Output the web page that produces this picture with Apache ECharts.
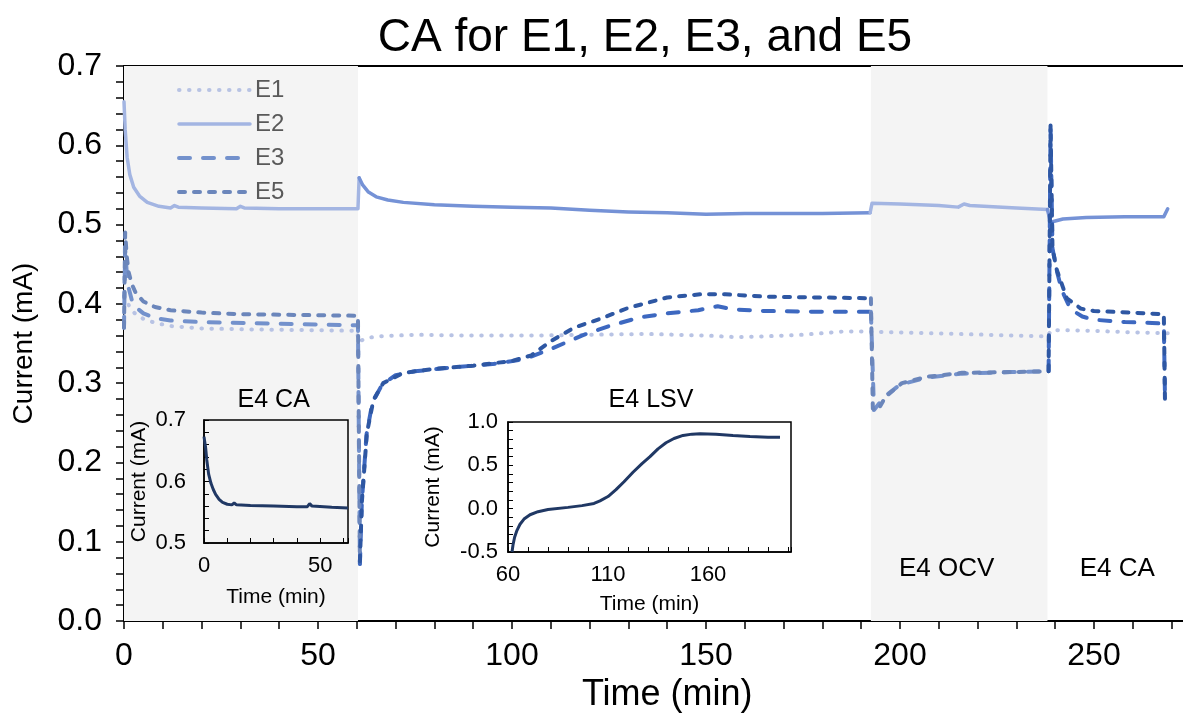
<!DOCTYPE html>
<html><head><meta charset="utf-8">
<script src="https://cdn.jsdelivr.net/npm/echarts@6/dist/echarts.min.js"></script>
<style>html,body{margin:0;padding:0;background:#fff}#c{width:1183px;height:713px}</style>
</head><body><div id="c"></div>
<script>
// ---- data (time in min, current in mA) ----
const E1 = [[0,0.41],[0.5,0.405],[1,0.4],[2,0.392],[3,0.387],[5,0.381],[8,0.376],[12,0.372],[20,0.369],[30,0.368],[45,0.367],[60,0.366],[60.6,0.352],[62,0.356],[65,0.359],[75,0.361],[90,0.36],[105,0.36],[120,0.361],[135,0.362],[150,0.36],[158,0.358],[165,0.359],[175,0.361],[185,0.365],[192,0.365],[200,0.364],[215,0.362],[230,0.36],[238,0.359],[239,0.367],[250,0.366],[260,0.364],[269,0.363]];
const E2 = [[0,0.655],[0.3,0.62],[0.8,0.585],[1.5,0.563],[2.5,0.547],[4,0.536],[6,0.528],[9,0.523],[12,0.521],[13,0.524],[14,0.522],[20,0.521],[29,0.52],[30,0.523],[31,0.521],[40,0.52],[50,0.52],[60.3,0.52],[60.6,0.559],[61.5,0.55],[63,0.541],[65,0.535],[68,0.531],[72,0.528],[80,0.525],[90,0.523],[100,0.522],[110,0.521],[120,0.518],[130,0.516],[140,0.515],[150,0.513],[160,0.514],[170,0.514],[180,0.514],[192.3,0.515],[192.8,0.527],[200,0.526],[210,0.524],[215,0.522],[216.5,0.526],[218,0.524],[230,0.521],[238,0.519],[238.8,0.503],[242,0.507],[248,0.509],[258,0.51],[268,0.51],[269,0.52]];
const E3 = [[0,0.37],[0.3,0.47],[0.7,0.44],[1.2,0.42],[2,0.405],[3,0.396],[5,0.388],[8,0.382],[12,0.379],[20,0.377],[40,0.375],[60.3,0.373],[60.8,0.072],[61.3,0.15],[62.5,0.235],[64,0.275],[66.5,0.298],[70,0.31],[75,0.315],[85,0.32],[95,0.324],[103,0.33],[110,0.343],[118,0.36],[125,0.372],[133,0.383],[140,0.388],[148,0.392],[153,0.397],[157,0.393],[165,0.391],[180,0.39],[192.5,0.39],[193.3,0.266],[196,0.283],[200,0.298],[207,0.307],[216,0.312],[229,0.314],[238.3,0.315],[238.8,0.62],[239.3,0.47],[240.5,0.44],[241.7,0.417],[244,0.393],[247,0.384],[250,0.38],[258,0.377],[265,0.376],[268,0.375],[268.3,0.28]];
const E5 = [[0,0.37],[0.3,0.49],[0.7,0.46],[1.2,0.44],[2,0.425],[3,0.414],[5,0.403],[8,0.396],[12,0.392],[20,0.389],[30,0.387],[45,0.386],[60.3,0.385],[60.8,0.075],[61.3,0.15],[62.6,0.237],[64.3,0.279],[66.8,0.3],[72,0.313],[80,0.318],[90,0.322],[100,0.328],[105,0.335],[110,0.353],[116,0.37],[122.7,0.381],[130,0.395],[140,0.408],[148.5,0.412],[155,0.412],[165.7,0.409],[180,0.408],[192.5,0.407],[193,0.268],[194.3,0.266],[196.3,0.283],[200.5,0.3],[207,0.308],[216,0.313],[229,0.314],[238.3,0.315],[238.8,0.625],[239.3,0.47],[240.4,0.443],[243,0.407],[246.6,0.394],[250,0.391],[255,0.39],[263.5,0.388],[268,0.387],[268.3,0.276]];
const E4_CA = [[0,0.673],[0.3,0.67],[0.7,0.655],[1.2,0.635],[2,0.612],[3,0.597],[4,0.587],[5,0.579],[6.5,0.571],[8,0.566],[10,0.563],[12,0.562],[13,0.565],[14,0.562],[20,0.561],[30,0.56],[40,0.559],[44.5,0.559],[45.5,0.564],[46.5,0.56],[55,0.558],[62,0.557]];
const E4_LSV = [[62,-0.5],[62.5,-0.42],[63.3,-0.33],[64.5,-0.25],[66,-0.18],[68,-0.12],[71,-0.07],[75,-0.035],[80,-0.01],[90,0.015],[97,0.035],[103,0.06],[106,0.09],[110,0.14],[114,0.22],[118,0.31],[122.5,0.42],[127,0.52],[131,0.6],[135,0.69],[139,0.76],[143,0.81],[147.5,0.845],[152,0.86],[156,0.865],[164,0.86],[172.5,0.845],[181,0.832],[190,0.825],[196,0.823]];
const SEGMENT_BOUNDS = [60.8, 192.5, 238.3];   // E4 CA | E4 LSV | E4 OCV | E4 CA
const SHADED = [[0, 60.3], [192.5, 238]];
const PHASE_LABELS = [['E4 OCV', 212], ['E4 CA', 256]];
const SERIES_NAMES = ['E1', 'E2', 'E3', 'E5'];

const FONT = '"Liberation Sans", Arial, sans-serif';

function splitSegments(data, bounds) {
  const out = bounds.map(() => []).concat([[]]);
  data.forEach(p => { let k = 0; while (k < bounds.length && p[0] > bounds[k]) k++; out[k].push(p); });
  for (let k = out.length - 1; k > 0; k--) {
    if (out[k - 1].length) out[k].unshift(out[k - 1][out[k - 1].length - 1]);
  }
  return out;
}

const styles = {
  E2: { colors: ['#a3b5e2', '#7592d6', '#a3b5e2', '#7592d6'], width: 3.5, type: 'solid' },
  E3: { colors: ['#7391cc', '#3d68c0', '#7391cc', '#3d68c0'], width: 4, type: [11, 13] },
  E5: { colors: ['#6b86bb', '#2e57a3', '#6b86bb', '#2e57a3'], width: 4, type: [6, 9] }
};

const series = [];
series.push({
  type: 'line', data: [], xAxisIndex: 0, yAxisIndex: 0, z: 0, silent: true,
  markArea: { silent: true, itemStyle: { color: '#f4f4f4' },
    data: SHADED.map(r => [{ xAxis: r[0] }, { xAxis: r[1] }]) }
});
series.push({
  name: 'E1', type: 'line', data: E1, showSymbol: false, symbol: 'none', z: 2,
  lineStyle: { color: '#b8c3e4', width: 4, type: [0.5, 9.5], cap: 'round' },
  itemStyle: { color: '#b8c3e4' }
});
const src = { E2: E2, E3: E3, E5: E5 };
['E2', 'E3', 'E5'].forEach((nm, si) => {
  const st = styles[nm];
  splitSegments(src[nm], SEGMENT_BOUNDS).forEach((seg, k) => {
    series.push({
      name: nm, type: 'line', data: seg, showSymbol: false, symbol: 'none', z: 3 + si,
      lineStyle: { color: st.colors[k], width: st.width, type: st.type, cap: 'round', join: 'round' },
      itemStyle: { color: st.colors[k] }
    });
  });
});
series.push({ type: 'line', data: E4_CA, xAxisIndex: 1, yAxisIndex: 1, showSymbol: false, symbol: 'none', z: 12,
  lineStyle: { color: '#203864', width: 3 } });
series.push({ type: 'line', data: E4_LSV, xAxisIndex: 2, yAxisIndex: 2, showSymbol: false, symbol: 'none', z: 12,
  lineStyle: { color: '#203864', width: 3 } });

const isMult = (v, m) => Math.abs(v / m - Math.round(v / m)) < 1e-6;

const mainAxis = (extra) => Object.assign({
  type: 'value', splitLine: { show: false },
  axisLine: { show: true, onZero: false, lineStyle: { color: '#000', width: 2 } },
  axisTick: { show: true, length: 8, lineStyle: { color: '#000', width: 1.5 } }
}, extra);
const insetAxis = (extra) => Object.assign({
  type: 'value', splitLine: { show: false }, nameLocation: 'middle', z: 10,
  axisLine: { show: true, onZero: false, lineStyle: { color: '#000', width: 1.5 } },
  axisTick: { show: true, inside: true, length: 5, lineStyle: { color: '#000', width: 1 } },
  nameTextStyle: { color: '#000', fontFamily: FONT, fontSize: 21 }
}, extra);
const insetLabel = (fmt, margin) => ({ color: '#000', fontFamily: FONT, fontSize: 22, margin: margin, formatter: fmt });

const option = {
  animation: false,
  backgroundColor: '#fff',
  title: { text: 'CA for E1, E2, E3, and E5', left: 640, textAlign: 'center', top: 10,
    textStyle: { fontFamily: FONT, fontSize: 46, fontWeight: 'normal', color: '#000' } },
  legend: {
    data: SERIES_NAMES, orient: 'vertical', left: 172, top: 73, itemWidth: 71, itemHeight: 14, itemGap: 10,
    itemStyle: { opacity: 0 }, lineStyle: { width: 'inherit' },
    textStyle: { fontFamily: FONT, fontSize: 24, color: '#595959' }, selectedMode: false
  },
  grid: [
    { left: 124, top: 66, width: 1086.4, height: 555, show: true, borderColor: '#000', borderWidth: 2, outerBoundsMode: 'none', containLabel: false },
    { left: 204, top: 420, width: 144, height: 123, show: true, z: 10, borderColor: '#000', borderWidth: 1.5, outerBoundsMode: 'none', containLabel: false },
    { left: 508, top: 422, width: 283, height: 130, show: true, z: 10, borderColor: '#000', borderWidth: 1.5, outerBoundsMode: 'none', containLabel: false }
  ],
  xAxis: [
    mainAxis({ gridIndex: 0, min: 0, max: 280, interval: 10, name: 'Time (min)', nameLocation: 'middle', nameGap: 52,
      axisLabel: { color: '#000', fontFamily: FONT, fontSize: 32, margin: 19, formatter: v => isMult(v, 50) ? String(v) : '' },
      nameTextStyle: { color: '#000', fontFamily: FONT, fontSize: 36 } }),
    insetAxis({ gridIndex: 1, min: 0, max: 62, interval: 10, name: 'Time (min)', nameGap: 44,
      axisLabel: insetLabel(v => isMult(v, 50) ? String(v) : '', 12) }),
    insetAxis({ gridIndex: 2, min: 60, max: 201.5, interval: 10, name: 'Time (min)', nameGap: 42,
      axisLabel: insetLabel(v => isMult(v - 60, 50) ? String(v) : '', 12) })
  ],
  yAxis: [
    mainAxis({ gridIndex: 0, min: 0, max: 0.7, interval: 0.02, name: 'Current (mA)', nameLocation: 'middle', nameGap: 86,
      axisLabel: { color: '#000', fontFamily: FONT, fontSize: 32, margin: 22, formatter: v => isMult(v, 0.1) ? v.toFixed(1) : '' },
      nameTextStyle: { color: '#000', fontFamily: FONT, fontSize: 28 } }),
    insetAxis({ gridIndex: 1, min: 0.5, max: 0.7, interval: 0.02, name: 'Current (mA)', nameGap: 54,
      axisLabel: insetLabel(v => isMult(v, 0.1) ? v.toFixed(1) : '', 18) }),
    insetAxis({ gridIndex: 2, min: -0.5, max: 1.0, interval: 0.1, name: 'Current (mA)', nameGap: 64,
      axisLabel: insetLabel(v => isMult(v, 0.5) ? v.toFixed(1) : '', 10) })
  ],
  series: series
};

const chart = echarts.init(document.getElementById('c'), null, { renderer: 'canvas' });
chart.setOption(option);
// text annotations placed through the axes' own scales
const txt = (s, px, py, size) => ({ type: 'text', x: px, y: py, z: 20,
  style: { text: s, fontFamily: FONT, fontSize: size, fill: '#000', align: 'center', verticalAlign: 'middle' } });
const g = [];
PHASE_LABELS.forEach(([s, t]) => {
  const p = chart.convertToPixel({ xAxisIndex: 0, yAxisIndex: 0 }, [t, 0.066]);
  g.push(txt(s, p[0], p[1], 26));
});
const pCA = chart.convertToPixel({ xAxisIndex: 1, yAxisIndex: 1 }, [30, 0.7]);
g.push(txt('E4 CA', pCA[0], pCA[1] - 20, 25));
const pLSV = chart.convertToPixel({ xAxisIndex: 2, yAxisIndex: 2 }, [131.5, 1.0]);
g.push(txt('E4 LSV', pLSV[0], pLSV[1] - 22, 25));
chart.setOption({ graphic: g });
</script>
</body></html>
